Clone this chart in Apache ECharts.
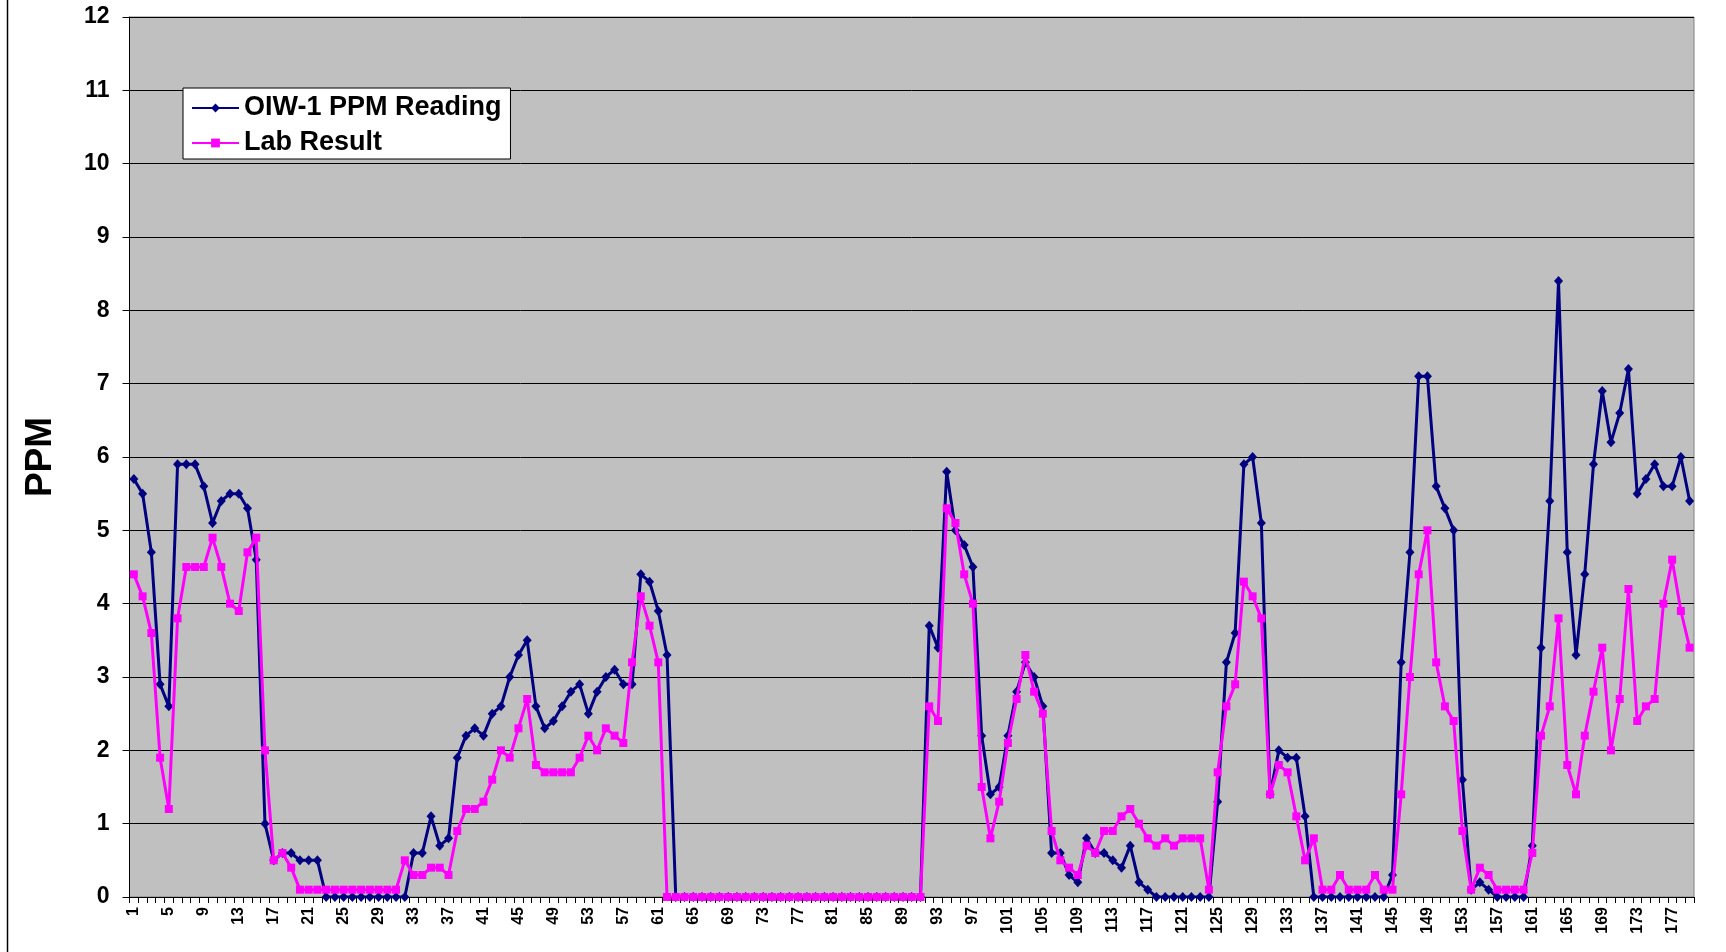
<!DOCTYPE html>
<html>
<head>
<meta charset="utf-8">
<script src="https://cdn.jsdelivr.net/npm/echarts@6/dist/echarts.min.js"></script>
<style>
html,body{margin:0;padding:0;background:#fff;}
#chart{width:1726px;height:952px;}
</style>
</head>
<body>
<div id="chart"></div>
<script>
// Category labels: sample numbers 1..179
var categories = [];
for (var c = 1; c <= 179; c++) { categories.push(String(c)); }

var seriesNames = ['OIW-1 PPM Reading', 'Lab Result'];

var oiwReading = [
  5.7, 5.5, 4.7, 2.9, 2.6, 5.9, 5.9, 5.9, 5.6, 5.1,
  5.4, 5.5, 5.5, 5.3, 4.6, 1.0, 0.5, 0.6, 0.6, 0.5,
  0.5, 0.5, 0, 0, 0, 0, 0, 0, 0, 0,
  0, 0, 0.6, 0.6, 1.1, 0.7, 0.8, 1.9, 2.2, 2.3,
  2.2, 2.5, 2.6, 3.0, 3.3, 3.5, 2.6, 2.3, 2.4, 2.6,
  2.8, 2.9, 2.5, 2.8, 3.0, 3.1, 2.9, 2.9, 4.4, 4.3,
  3.9, 3.3, 0, 0, 0, 0, 0, 0, 0, 0,
  0, 0, 0, 0, 0, 0, 0, 0, 0, 0,
  0, 0, 0, 0, 0, 0, 0, 0, 0, 0,
  0, 3.7, 3.4, 5.8, 5.0, 4.8, 4.5, 2.2, 1.4, 1.5,
  2.2, 2.8, 3.2, 3.0, 2.6, 0.6, 0.6, 0.3, 0.2, 0.8,
  0.6, 0.6, 0.5, 0.4, 0.7, 0.2, 0.1, 0, 0, 0,
  0, 0, 0, 0, 1.3, 3.2, 3.6, 5.9, 6.0, 5.1,
  1.4, 2.0, 1.9, 1.9, 1.1, 0, 0, 0, 0, 0,
  0, 0, 0, 0, 0.3, 3.2, 4.7, 7.1, 7.1, 5.6,
  5.3, 5.0, 1.6, 0.1, 0.2, 0.1, 0, 0, 0, 0,
  0.7, 3.4, 5.4, 8.4, 4.7, 3.3, 4.4, 5.9, 6.9, 6.2,
  6.6, 7.2, 5.5, 5.7, 5.9, 5.6, 5.6, 6.0, 5.4
];

var labResult = [
  4.4, 4.1, 3.6, 1.9, 1.2, 3.8, 4.5, 4.5, 4.5, 4.9,
  4.5, 4.0, 3.9, 4.7, 4.9, 2.0, 0.5, 0.6, 0.4, 0.1,
  0.1, 0.1, 0.1, 0.1, 0.1, 0.1, 0.1, 0.1, 0.1, 0.1,
  0.1, 0.5, 0.3, 0.3, 0.4, 0.4, 0.3, 0.9, 1.2, 1.2,
  1.3, 1.6, 2.0, 1.9, 2.3, 2.7, 1.8, 1.7, 1.7, 1.7,
  1.7, 1.9, 2.2, 2.0, 2.3, 2.2, 2.1, 3.2, 4.1, 3.7,
  3.2, 0, 0, 0, 0, 0, 0, 0, 0, 0,
  0, 0, 0, 0, 0, 0, 0, 0, 0, 0,
  0, 0, 0, 0, 0, 0, 0, 0, 0, 0,
  0, 2.6, 2.4, 5.3, 5.1, 4.4, 4.0, 1.5, 0.8, 1.3,
  2.1, 2.7, 3.3, 2.8, 2.5, 0.9, 0.5, 0.4, 0.3, 0.7,
  0.6, 0.9, 0.9, 1.1, 1.2, 1.0, 0.8, 0.7, 0.8, 0.7,
  0.8, 0.8, 0.8, 0.1, 1.7, 2.6, 2.9, 4.3, 4.1, 3.8,
  1.4, 1.8, 1.7, 1.1, 0.5, 0.8, 0.1, 0.1, 0.3, 0.1,
  0.1, 0.1, 0.3, 0.1, 0.1, 1.4, 3.0, 4.4, 5.0, 3.2,
  2.6, 2.4, 0.9, 0.1, 0.4, 0.3, 0.1, 0.1, 0.1, 0.1,
  0.6, 2.2, 2.6, 3.8, 1.8, 1.4, 2.2, 2.8, 3.4, 2.0,
  2.7, 4.2, 2.4, 2.6, 2.7, 4.0, 4.6, 3.9, 3.4
];

var yTicks = { min: 0, max: 12, interval: 1 };
var yAxisTitle = 'PPM';

var FONT = '"Liberation Sans", Arial, sans-serif';
var chart = echarts.init(document.getElementById('chart'), null, { renderer: 'canvas' });

chart.setOption({
  animation: false,
  backgroundColor: '#ffffff',
  graphic: [{
    type: 'line',
    shape: { x1: 7.5, y1: 0, x2: 7.5, y2: 952 },
    style: { stroke: '#000000', lineWidth: 1.5 },
    silent: true
  }],
  grid: {
    left: 129.5, right: 32, top: 17, bottom: 55,
    show: true,
    backgroundColor: '#C0C0C0',
    borderColor: '#808080',
    borderWidth: 1
  },
  legend: {
    orient: 'vertical',
    left: 183,
    top: 88,
    data: seriesNames,
    backgroundColor: '#ffffff',
    borderColor: '#000000',
    borderWidth: 1,
    borderRadius: 0,
    padding: [6, 9, 2, 8],
    itemGap: 7,
    itemWidth: 47,
    itemHeight: 11,
    textStyle: { fontFamily: FONT, fontWeight: 'bold', fontSize: 27, color: '#000000', lineHeight: 28 }
  },
  xAxis: {
    type: 'category',
    data: categories,
    boundaryGap: true,
    axisLine: { show: true, lineStyle: { color: '#000000', width: 1 } },
    axisTick: { show: true, interval: 0, length: 6, lineStyle: { color: '#000000' } },
    axisLabel: {
      interval: 3,
      rotate: 90,
      margin: 10,
      fontFamily: FONT,
      fontWeight: 'bold',
      fontSize: 16,
      color: '#000000'
    },
    splitLine: { show: false }
  },
  yAxis: {
    type: 'value',
    min: yTicks.min,
    max: yTicks.max,
    interval: yTicks.interval,
    name: yAxisTitle,
    nameLocation: 'middle',
    nameRotate: 90,
    nameGap: 70,
    nameTextStyle: { fontFamily: FONT, fontWeight: 'bold', fontSize: 37, color: '#000000' },
    axisLine: { show: true, lineStyle: { color: '#000000', width: 1 } },
    axisTick: { show: true, length: 7, lineStyle: { color: '#000000' } },
    axisLabel: {
      margin: 20,
      fontFamily: FONT,
      fontWeight: 'bold',
      fontSize: 23,
      color: '#000000'
    },
    splitLine: { show: true, lineStyle: { color: '#000000', width: 1 } }
  },
  series: [
    {
      name: seriesNames[0],
      type: 'line',
      data: oiwReading,
      symbol: 'diamond',
      symbolSize: [9, 10],
      showAllSymbol: true,
      color: '#000080',
      itemStyle: { color: '#000080' },
      lineStyle: { color: '#000080', width: 3 },
      z: 2
    },
    {
      name: seriesNames[1],
      type: 'line',
      data: labResult,
      symbol: 'rect',
      symbolSize: 8,
      showAllSymbol: true,
      color: '#FF00FF',
      itemStyle: { color: '#FF00FF' },
      lineStyle: { color: '#FF00FF', width: 3 },
      z: 3
    }
  ]
});
</script>
</body>
</html>
